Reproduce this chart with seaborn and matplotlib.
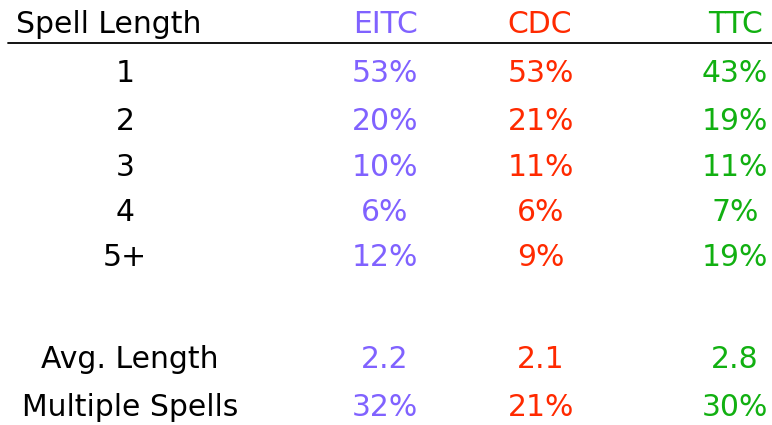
import matplotlib
matplotlib.use("Agg")
import matplotlib.pyplot as plt
import seaborn as sns

# Data
row_labels = ["1", "2", "3", "4", "5+"]
eitc = ["53%", "20%", "10%", "6%", "12%"]
cdc = ["53%", "21%", "11%", "6%", "9%"]
ttc = ["43%", "19%", "11%", "7%", "19%"]
summary_labels = ["Avg. Length", "Multiple Spells"]
eitc_summary = ["2.2", "32%"]
cdc_summary = ["2.1", "21%"]
ttc_summary = ["2.8", "30%"]
header = ["Spell Length", "EITC", "CDC", "TTC"]

sns.set_theme(style="white")
plt.rcParams['font.family'] = ['DejaVu Sans']

colors = ["black", "#8062FF", "#FF2A00", "#11B011"]

fig = plt.figure(figsize=(7.72, 4.25), dpi=100)
ax = fig.add_axes([0, 0, 1, 1])
ax.set_xlim(0, 772)
ax.set_ylim(425, 0)
ax.axis("off")

col_x = [125, 385, 541, 735]
header_x = [109, 386, 540, 735]
fs = 21.5

# header
for x, t, c in zip(header_x, header, colors):
    ax.text(x, 24, t, ha="center", va="center", fontsize=fs, color=c)
ax.plot([8, 772], [43, 43], color="black", lw=1.3)

row_y = [73, 121, 167, 212, 258]
for y, lab, a, b, d in zip(row_y, row_labels, eitc, cdc, ttc):
    for x, t, c in zip(col_x, [lab, a, b, d], colors):
        ax.text(x, y, t, ha="center", va="center", fontsize=fs, color=c)

sum_y = [360, 407]
for y, lab, a, b, d in zip(sum_y, summary_labels, eitc_summary, cdc_summary, ttc_summary):
    for x, t, c in zip([130] + col_x[1:], [lab, a, b, d], colors):
        ax.text(x, y, t, ha="center", va="center", fontsize=fs, color=c)

fig.savefig("out.png", dpi=100)
